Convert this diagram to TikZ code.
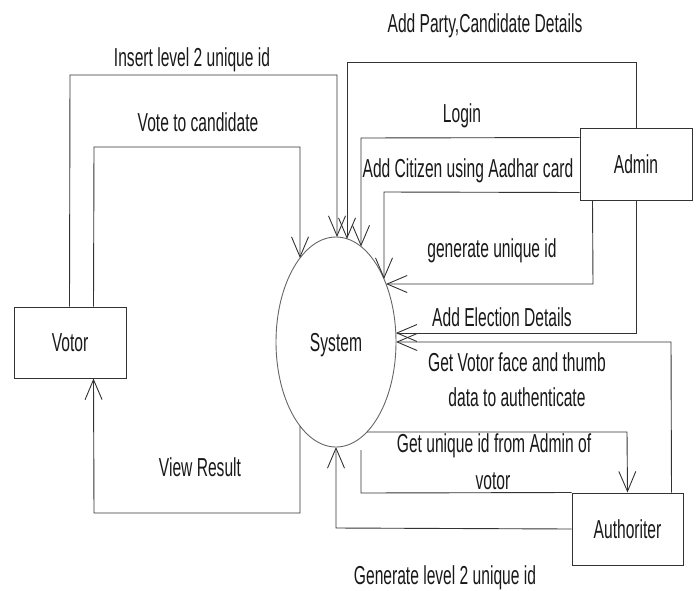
\documentclass[tikz,border=0pt]{standalone}
\usepackage{fontspec}
\setmainfont{Liberation Sans}[FakeStretch=0.6]
\usetikzlibrary{arrows.meta,shapes.geometric}
\begin{document}
\begin{tikzpicture}[x=1pt,y=-1pt,
  line width=0.9pt,
  every node/.style={font=\fontsize{26}{30}\selectfont, text=black!90},
  lbl/.style={inner sep=0pt, text height=18.6pt, text depth=0pt, anchor=center},
  entity/.style={draw=black!80, line width=1pt, rectangle, inner sep=0pt},
  flow/.style={draw=black!80, -{Straight Barb[length=20pt,width=17pt]}},
  plain/.style={draw=black!80}]
\useasboundingbox (0,0) rectangle (699,590);
% nodes
\node[entity, minimum width=112pt, minimum height=71pt] (votor) at (70,342.5) {};
\node[lbl] at (votor.center) {Votor};
\node[entity, minimum width=112pt, minimum height=72pt] (admin) at (636,164) {};
\node[lbl] at (admin.center) {Admin};
\node[entity, minimum width=111pt, minimum height=72pt] (auth) at (627.5,529) {};
\node[lbl] at (auth.center) {Authoriter};
\node[draw=black!60, line width=0.9pt, ellipse, minimum width=120pt, minimum height=210pt, inner sep=0pt] (sys) at (336,342) {};
\node[lbl] at (sys.center) {System};
% ports on the system ellipse
\coordinate (s1) at (337,237);
\coordinate (s2) at (300,258);
\coordinate (s3) at (347,239);
\coordinate (s4) at (361,246.5);
\coordinate (s5) at (384,279);
\coordinate (s6) at (386,284);
\coordinate (s7) at (395.8,333);
\coordinate (s8) at (396,342);
\coordinate (s9) at (367,432);
\coordinate (s10) at (361,450);
\coordinate (s11) at (336,447);
\coordinate (s12) at (300,426);
% connectors
\draw[flow] ([xshift=56pt]votor.north west) -- (70,75) -- (337,75) -- (s1);
\draw[flow] ([xshift=80pt]votor.north west) -- (94,147) -- (300,147) -- (s2);
\draw[flow] (admin.north) -- (636,62) -- (347,62) -- (s3);
\draw[flow] ([yshift=-10pt]admin.north west) -- (361,138) -- (s4);
\draw[flow] ([yshift=8pt]admin.south west) -- (384,192) -- (s5);
\draw[flow] ([xshift=13pt]admin.south west) -- (593,284) -- (s6);
\draw[flow] (admin.south) -- (636,333) -- (s7);
\draw[flow] ([xshift=-12pt]auth.north east) -- (671,342) -- (s8);
\draw[flow] (s9) -- (627,432) -- (auth.north);
\draw[plain] (s10) -- (361,493) -- (auth.north west);
\draw[flow] (auth.west) -- (336,528) -- (s11);
\draw[flow] (s12) -- (300,513) -- (94,513) -- ([xshift=80pt]votor.south west);
% labels
\node[lbl] at (192,57) {Insert level 2 unique id};
\node[lbl] at (198,122) {Vote to candidate};
\node[lbl] at (485,23) {Add Party,Candidate Details};
\node[lbl] at (462,113) {Login};
\node[lbl] at (468,168) {Add Citizen using Aadhar card};
\node[lbl] at (492,248) {generate unique id};
\node[lbl] at (502,317) {Add Election Details};
\node[lbl] at (517,362) {Get Votor face and thumb};
\node[lbl] at (517,397) {data to authenticate};
\node[lbl] at (494,443) {Get unique id from Admin of};
\node[lbl] at (493,480) {votor};
\node[lbl] at (200,467) {View Result};
\node[lbl] at (445,575) {Generate level 2 unique id};
\end{tikzpicture}
\end{document}
